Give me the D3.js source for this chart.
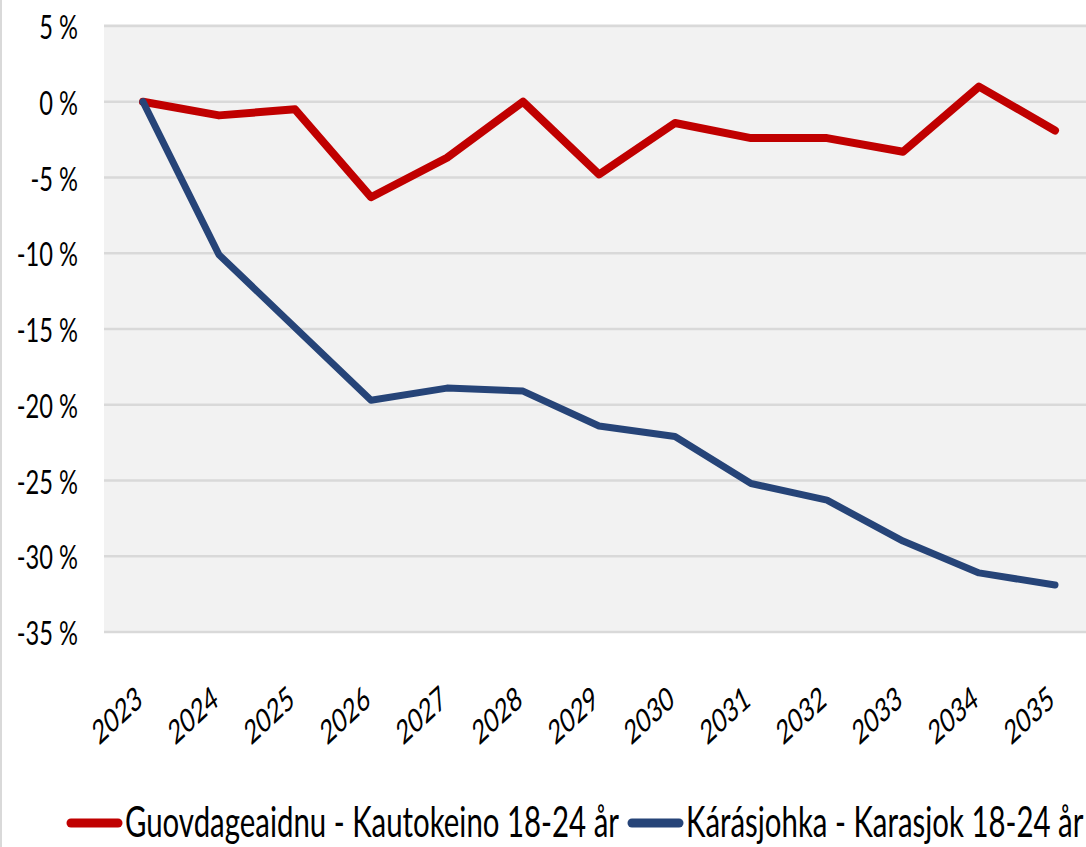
<!DOCTYPE html>
<html>
<head>
<meta charset="utf-8">
<script src="https://cdn.jsdelivr.net/npm/d3@7"></script>
<style>
  body { margin: 0; background: #fff; }
  text { font-family: Lato, "Open Sans", sans-serif; fill: #000; }
</style>
</head>
<body>
<svg id="chart" width="1086" height="847"></svg>
<script>
// data (percent change vs 2023)
const years = ['2023', '2024', '2025', '2026', '2027', '2028', '2029', '2030', '2031', '2032', '2033', '2034', '2035'];
const kautokeino = [0, -0.9, -0.5, -6.3, -3.7, 0, -4.8, -1.4, -2.4, -2.4, -3.3, 1.0, -1.9];
const karasjok = [0, -10.1, -14.9, -19.7, -18.9, -19.1, -21.4, -22.1, -25.2, -26.3, -29.0, -31.1, -31.9];
const yTicks = [5, 0, -5, -10, -15, -20, -25, -30, -35];
const seriesNames = ['Guovdageaidnu - Kautokeino 18-24 år', 'Kárásjohka - Karasjok 18-24 år'];
const seriesColors = ['#c00000', '#264478'];

const svg = d3.select('#chart');

const x = d3.scalePoint()
    .domain(years)
    .range([143, 1055]);

const y = d3.scaleLinear()
    .domain([-35, 5])
    .range([632, 26]);

// left frame edge
svg.append('line')
    .attr('x1', 1).attr('x2', 1)
    .attr('y1', 0).attr('y2', 847)
    .attr('stroke', '#d9d9d9')
    .attr('stroke-width', 2);

// plot background
svg.append('rect')
    .attr('x', 104)
    .attr('y', y(5) - 2)
    .attr('width', 1086 - 104)
    .attr('height', y(-35) - y(5) + 3)
    .attr('fill', '#f2f2f2');

// gridlines
svg.append('g')
    .selectAll('line')
    .data(yTicks)
    .enter()
    .append('line')
    .attr('x1', 104)
    .attr('x2', 1086)
    .attr('y1', d => y(d))
    .attr('y2', d => y(d))
    .attr('stroke', '#d9d9d9')
    .attr('stroke-width', 2.5);

// y tick labels
svg.append('g')
    .selectAll('text')
    .data(yTicks)
    .enter()
    .append('text')
    .attr('transform', d => `translate(78 ${y(d) + 13}) scale(0.74 1)`)
    .attr('text-anchor', 'end')
    .style('font-size', '32px')
    .text(d => `${d} %`);

// x tick labels, rotated
svg.append('g')
    .selectAll('text')
    .data(years)
    .enter()
    .append('text')
    .attr('transform', d => `translate(${x(d) + 1} 704) scale(0.7 1) rotate(-33)`)
    .attr('text-anchor', 'end')
    .style('font-size', '33px')
    .text(d => d);

const line = d3.line()
    .x((d, i) => x(years[i]))
    .y(d => y(d));

const allSeries = [kautokeino, karasjok];
const widths = [8, 7];

svg.append('g')
    .selectAll('path')
    .data(allSeries)
    .enter()
    .append('path')
    .attr('d', line)
    .attr('fill', 'none')
    .attr('stroke', (d, i) => seriesColors[i])
    .attr('stroke-width', (d, i) => widths[i])
    .attr('stroke-linejoin', 'round')
    .attr('stroke-linecap', 'round');

// legend
const legendX = [67, 628];
const legend = svg.append('g');
seriesNames.forEach((name, i) => {
    legend.append('line')
        .attr('x1', legendX[i] + 4).attr('x2', legendX[i] + 51)
        .attr('y1', 823).attr('y2', 823)
        .attr('stroke', seriesColors[i])
        .attr('stroke-width', 9)
        .attr('stroke-linecap', 'round');
    legend.append('text')
        .attr('transform', `translate(${legendX[i] + 58} 837) scale(0.70 1)`)
        .style('font-size', '42px')
        .text(name);
});
</script>
</body>
</html>
